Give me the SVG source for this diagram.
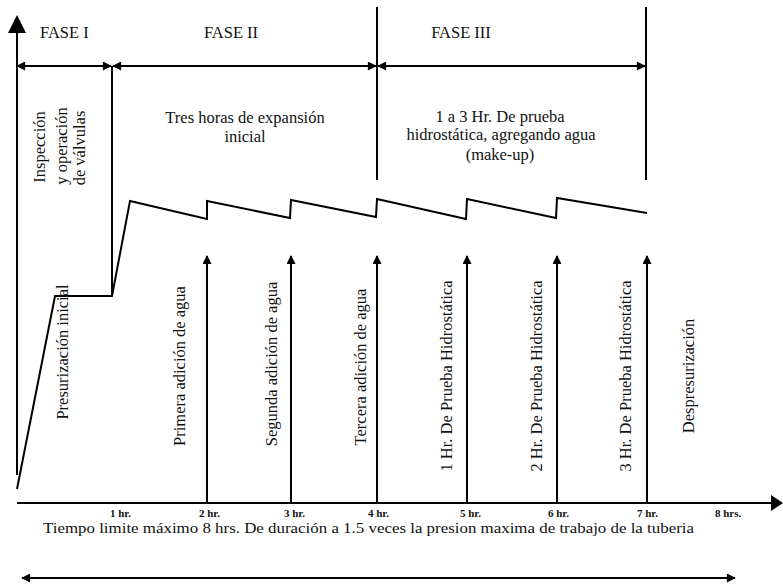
<svg xmlns="http://www.w3.org/2000/svg" width="783" height="588" viewBox="0 0 783 588">
<defs>
<marker id="ah" viewBox="0 0 10 10" refX="9" refY="5" markerWidth="10" markerHeight="9" markerUnits="userSpaceOnUse" orient="auto-start-reverse">
<path d="M0,0 L10,5 L0,10 z" fill="#000"/>
</marker>
</defs>
<style>
.ln{stroke:#000;stroke-width:2;fill:none}
.t{font-family:"Liberation Serif","Times New Roman",serif;font-size:16.5px;fill:#111}
.c{text-anchor:middle}
.tk{font-family:"Liberation Serif","Times New Roman",serif;font-size:11px;font-weight:bold;fill:#111}
</style>
<rect width="783" height="588" fill="#fff"/>
<g id="axes">
<line class="ln" x1="17" y1="475" x2="17" y2="30"/>
<path d="M17,15 L8,33 L26,33 z" fill="#000"/>
<line class="ln" x1="17" y1="503" x2="772" y2="503"/>
<path d="M783,503 L771,495 L771,511 z" fill="#000"/>
</g>
<g id="connectors">
<line class="ln" x1="17" y1="66" x2="111" y2="66" marker-start="url(#ah)" marker-end="url(#ah)"/>
<line class="ln" x1="113" y1="66" x2="376" y2="66" marker-start="url(#ah)" marker-end="url(#ah)"/>
<line class="ln" x1="378" y1="66" x2="645" y2="66" marker-start="url(#ah)" marker-end="url(#ah)"/>
<line class="ln" x1="112" y1="66" x2="112" y2="296"/>
<line class="ln" x1="377" y1="7" x2="377" y2="180"/>
<line class="ln" x1="646" y1="7" x2="646" y2="180"/>
<line class="ln" x1="207" y1="503" x2="207" y2="256" marker-end="url(#ah)"/>
<line class="ln" x1="291" y1="503" x2="291" y2="256" marker-end="url(#ah)"/>
<line class="ln" x1="377" y1="503" x2="377" y2="256" marker-end="url(#ah)"/>
<line class="ln" x1="467" y1="503" x2="467" y2="256" marker-end="url(#ah)"/>
<line class="ln" x1="557" y1="503" x2="557" y2="256" marker-end="url(#ah)"/>
<line class="ln" x1="647" y1="503" x2="647" y2="256" marker-end="url(#ah)"/>
<line class="ln" x1="22" y1="578" x2="735" y2="578" marker-start="url(#ah)" marker-end="url(#ah)"/>
<path class="ln" stroke-linejoin="miter" d="M17,489 L55,296 L112,296 L130,201 L207,219 L207,201 L290,218 L291,200 L376,217 L377,199 L466,219 L467,199 L556,218 L557,198 L647,213"/>
</g>
<g id="phases">
<text class="t" x="40" y="38">FASE I</text>
<text class="t c" x="231" y="38">FASE II</text>
<text class="t c" x="461" y="38">FASE III</text>
<text class="t c" x="245" y="123">Tres horas de expansión</text>
<text class="t c" x="245" y="142">inicial</text>
<text class="t c" x="500" y="122">1 a 3 Hr. De prueba</text>
<text class="t c" x="501" y="140">hidrostática, agregando agua</text>
<text class="t c" x="500" y="160">(make-up)</text>
</g>
<g id="labels-rotated">
<text class="t c" transform="translate(39,147) rotate(-90)" dy="0.35em">Inspección</text>
<text class="t c" transform="translate(61,146) rotate(-90)" dy="0.35em">y operación</text>
<text class="t c" transform="translate(79,148) rotate(-90)" dy="0.35em">de válvulas</text>
<text class="t c" transform="translate(62,352) rotate(-90)" dy="0.35em">Presurización inicial</text>
<text class="t c" transform="translate(179,366) rotate(-90)" dy="0.35em">Primera adición de agua</text>
<text class="t c" transform="translate(271,364) rotate(-90)" dy="0.35em">Segunda adición de agua</text>
<text class="t c" transform="translate(360,367) rotate(-90)" dy="0.35em">Tercera adición de agua</text>
<text class="t c" transform="translate(446,376) rotate(-90)" dy="0.35em">1 Hr. De Prueba Hidrostática</text>
<text class="t c" transform="translate(536,376) rotate(-90)" dy="0.35em">2 Hr. De Prueba Hidrostática</text>
<text class="t c" transform="translate(625,376) rotate(-90)" dy="0.35em">3 Hr. De Prueba Hidrostática</text>
<text class="t c" transform="translate(688,376) rotate(-90)" dy="0.35em">Despresurización</text>
</g>
<g id="ticks">
<text class="tk" x="110" y="517">1 hr.</text>
<text class="tk" x="199" y="517">2 hr.</text>
<text class="tk" x="284" y="517">3 hr.</text>
<text class="tk" x="368" y="517">4 hr.</text>
<text class="tk" x="460" y="517">5 hr.</text>
<text class="tk" x="548" y="517">6 hr.</text>
<text class="tk" x="637" y="517">7 hr.</text>
<text class="tk" x="715" y="517">8 hrs.</text>
</g>
<g id="caption">
<text class="t" x="43" y="533" style="font-size:15px" textLength="651" lengthAdjust="spacingAndGlyphs">Tiempo limite máximo 8 hrs. De duración a 1.5 veces la presion maxima de trabajo de la tuberia</text>
</g>
</svg>
